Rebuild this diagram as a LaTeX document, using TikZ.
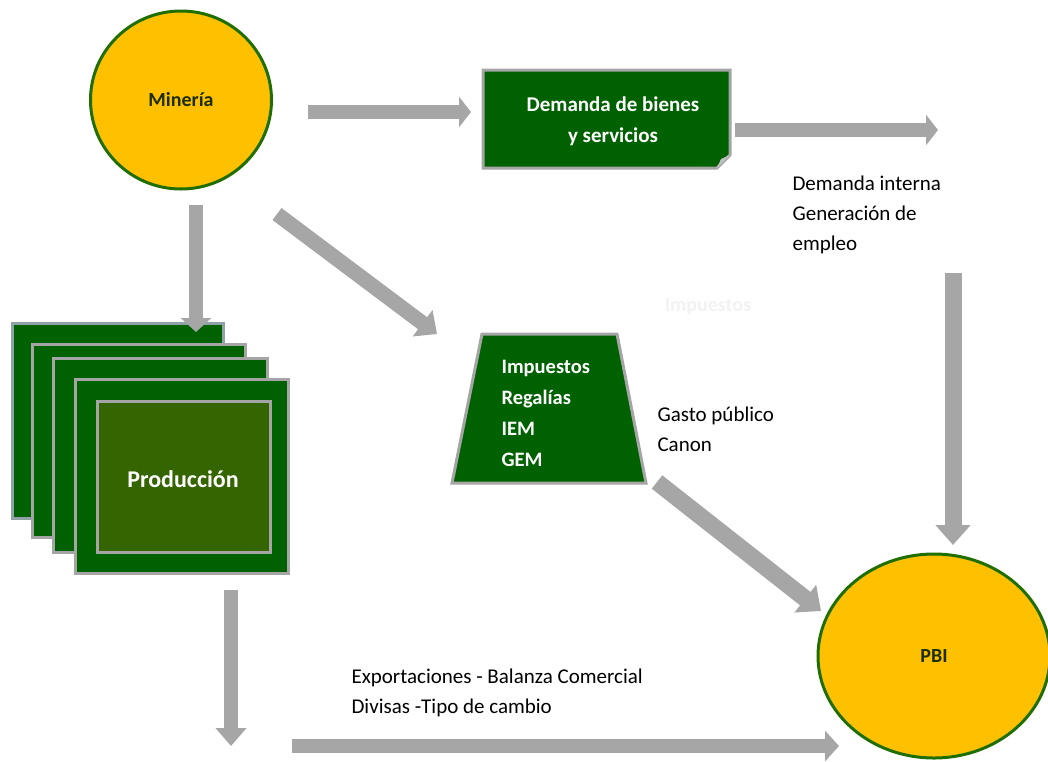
\documentclass[tikz,border=0pt]{standalone}
\usepackage{fontspec}
\setmainfont{Carlito}
\usetikzlibrary{arrows.meta,shapes.geometric,calc}
\definecolor{mgold}{HTML}{FFC000}
\definecolor{mgreen}{HTML}{1E6E00}
\definecolor{boxgreen}{HTML}{006100}
\definecolor{prodgreen}{HTML}{346500}
\definecolor{agray}{HTML}{A6A6A6}
\definecolor{bgray}{HTML}{A5A5A5}
\definecolor{bluegray}{HTML}{8FA2A6}
\definecolor{darktext}{HTML}{1A2E00}
\begin{document}
\begin{tikzpicture}[x=1pt,y=-1pt,
  blockarrow/.style={draw=agray,line width=14pt,-{Triangle[width=30pt,length=12pt]}},
  circ/.style={ellipse,fill=mgold,draw=mgreen,line width=3pt,font=\bfseries\fontsize{20}{24}\selectfont,text=darktext},
  stackbox/.style={fill=boxgreen,draw=bgray,line width=3pt},
  whitebold/.style={text=white,font=\bfseries\fontsize{21}{31}\selectfont},
  plain/.style={text=black,font=\fontsize{21}{30}\selectfont,align=left}]
\useasboundingbox (0,0) rectangle (1048,761);

% Mineria
\node[circ,minimum width=181pt,minimum height=178pt] (min) at (181,100) {Minería};

% Demanda box
\fill[boxgreen] (483,70) -- (730,70) -- (730,155) -- (717,168) -- (483,168) -- cycle;
\draw[bgray,line width=3pt] (483,70) -- (730,70) -- (730,155) -- (717,168) -- (483,168) -- cycle;
\fill[bgray!70] (730,155) -- (717,168) -- (721,159) -- cycle;
\node[whitebold,align=center] (dem) at (613,121) {Demanda de bienes\\y servicios};

% Impuestos trapezoid
\filldraw[fill=boxgreen,draw=bgray,line width=3pt] (482,334) -- (617,334) -- (646,483) -- (452,483) -- cycle;
\node[whitebold,align=left,anchor=west,font=\bfseries\fontsize{20.5}{31}\selectfont] (imp) at (498,413) {Impuestos\\Regalías\\IEM\\GEM};

% ghost text
\node[text=black!5,font=\bfseries\fontsize{20}{24}\selectfont] (ghost) at (708,307) {Impuestos};

% Produccion stack
\draw[fill=boxgreen,draw=bluegray,line width=3pt] (12,323) rectangle (223,518);
\draw[stackbox] (32,344) rectangle (245,537);
\draw[stackbox] (53,358) rectangle (267,552);
\draw[stackbox] (75,379) rectangle (288,573);
\draw[fill=prodgreen,draw=bgray,line width=3pt] (97,401) rectangle (270,552);
\node[text=white,font=\bfseries\fontsize{24}{30}\selectfont] (prod) at (183,479) {Producción};

% PBI
\node[circ,minimum width=232pt,minimum height=204pt] (pbi) at (934,656) {PBI};

% labels
\node[plain,anchor=north west] (dint) at (789,172) {Demanda interna\\Generación de\\empleo};
\node[plain,anchor=north west] (gasto) at (654,403) {Gasto público\\Canon};
\node[plain,anchor=north west] (expo) at (348,665) {Exportaciones - Balanza Comercial\\Divisas -Tipo de cambio};

% arrow endpoints
\coordinate (a1s) at (308,112); \coordinate (a1e) at (471,112);
\coordinate (a2s) at (735,130); \coordinate (a2e) at (938,130);
\coordinate (a3s) at (953,273); \coordinate (a3e) at (953,545);
\coordinate (a4s) at (196,205); \coordinate (a4e) at (196,332);
\coordinate (a5s) at (277,214); \coordinate (a5e) at (437,334);
\coordinate (a6s) at (657,482); \coordinate (a6e) at (821,611);
\coordinate (a7s) at (231,590); \coordinate (a7e) at (231,746);
\coordinate (a8s) at (292,746); \coordinate (a8e) at (839,746);

\draw[blockarrow] (a1s) -- (a1e);
\draw[blockarrow] (a2s) -- (a2e);
\draw[blockarrow,line width=17pt,-{Triangle[width=34pt,length=20pt]}] (a3s) -- (a3e);
\draw[blockarrow,-{Triangle[width=30pt,length=14pt]}] (a4s) -- (a4e);
\draw[blockarrow,line width=15pt,-{Triangle[width=32pt,length=18pt]}] (a5s) -- (a5e);
\draw[blockarrow,line width=17pt,-{Triangle[width=34pt,length=20pt]}] (a6s) -- (a6e);
\draw[blockarrow,-{Triangle[width=30pt,length=18pt]}] (a7s) -- (a7e);
\draw[blockarrow,-{Triangle[width=30pt,length=14pt]}] (a8s) -- (a8e);
\end{tikzpicture}
\end{document}
